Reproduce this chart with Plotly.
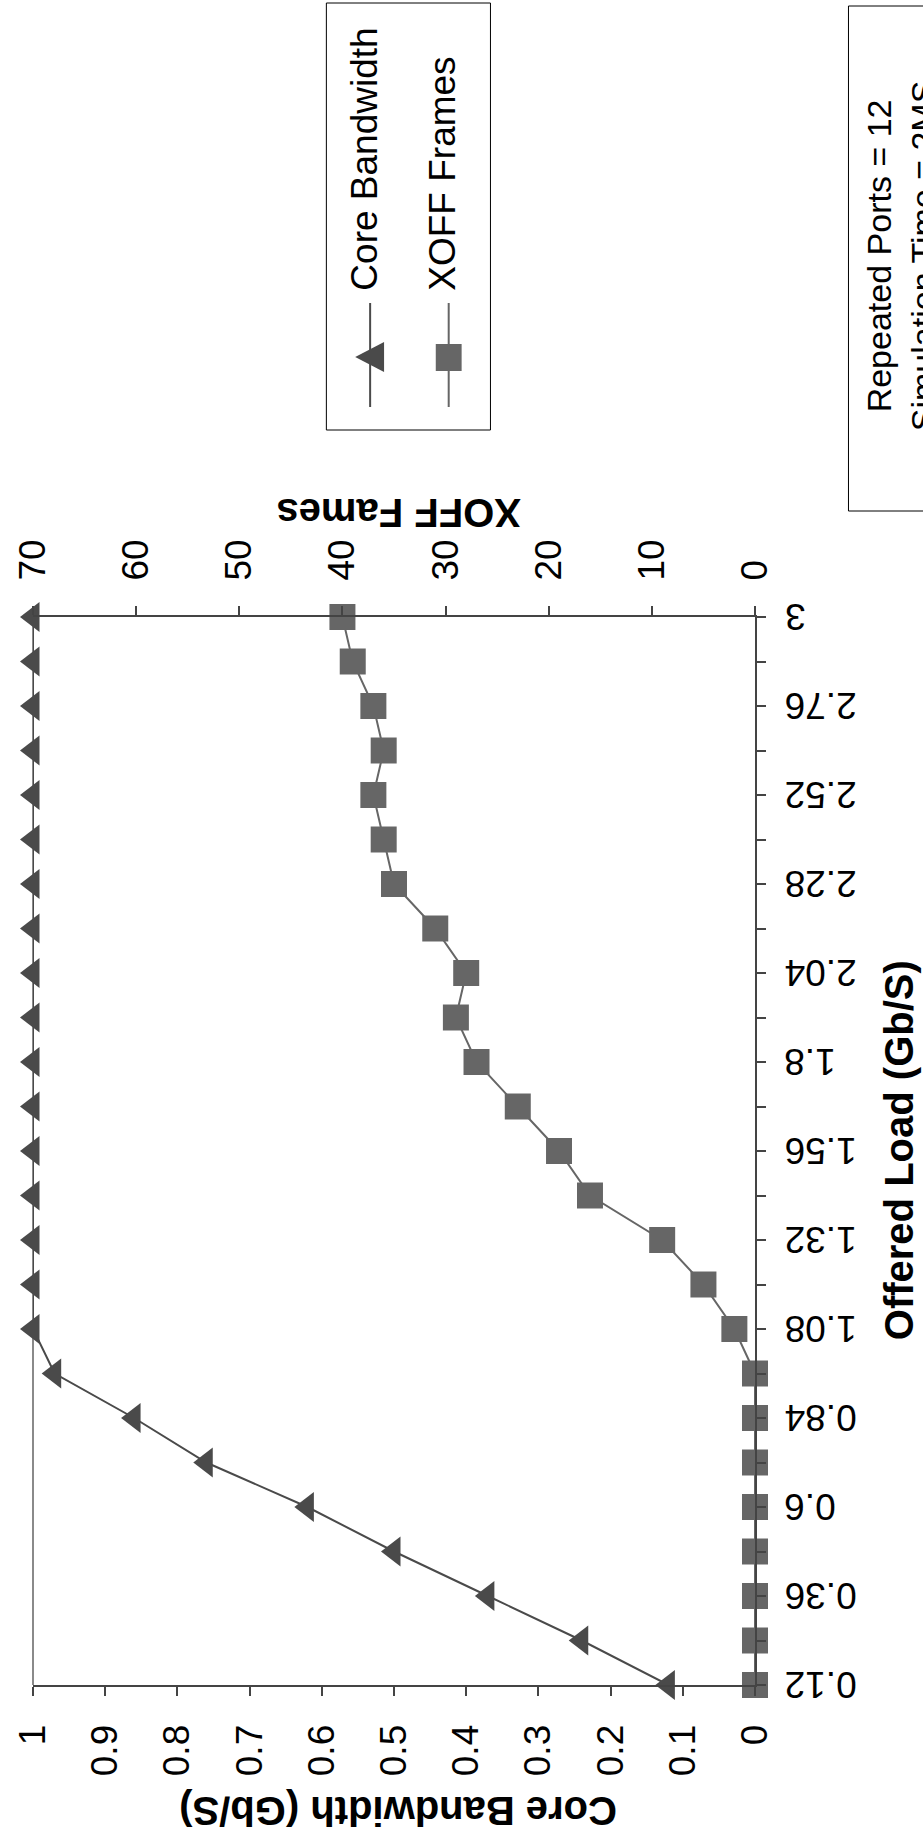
import plotly.graph_objects as go

# ---------------- data ----------------
offered_load = [0.12, 0.24, 0.36, 0.48, 0.60, 0.72, 0.84, 0.96, 1.08, 1.20, 1.32, 1.44, 1.56,
                1.68, 1.80, 1.92, 2.04, 2.16, 2.28, 2.40, 2.52, 2.64, 2.76, 2.88, 3.00]
core_bandwidth = [0.12, 0.24, 0.37, 0.50, 0.62, 0.76, 0.86, 0.97, 1.0, 1.0, 1.0, 1.0, 1.0,
                  1.0, 1.0, 1.0, 1.0, 1.0, 1.0, 1.0, 1.0, 1.0, 1.0, 1.0, 1.0]
xoff_frames = [0, 0, 0, 0, 0, 0, 0, 0, 2, 5, 9, 16, 19,
               23, 27, 29, 28, 31, 35, 36, 37, 36, 37, 39, 40]
load_tick_vals = [0.12, 0.36, 0.60, 0.84, 1.08, 1.32, 1.56, 1.80, 2.04, 2.28, 2.52, 2.76, 3.00]
load_tick_text = ["0.12", "0.36", "0.6", "0.84", "1.08", "1.32", "1.56", "1.8", "2.04",
                  "2.28", "2.52", "2.76", "3"]
bw_ticks = [0, 0.1, 0.2, 0.3, 0.4, 0.5, 0.6, 0.7, 0.8, 0.9, 1]
bw_tick_text = ["0", "0.1", "0.2", "0.3", "0.4", "0.5", "0.6", "0.7", "0.8", "0.9", "1"]
xoff_ticks = [0, 10, 20, 30, 40, 50, 60, 70]
xoff_tick_text = ["0", "10", "20", "30", "40", "50", "60", "70"]

FONT = "Arial, Liberation Sans, sans-serif"
AX = "#444444"
C1 = "#4a4a4a"
C2 = "#666666"

W, H = 923, 1843
L, R, T, B = 29, 168, 617, 158
PW = W - L - R
PH = H - T - B


def px(x):
    return (x - L) / PW


def py(y):
    return (H - B - y) / PH


fig = go.Figure()
fig.add_trace(go.Scatter(
    x=core_bandwidth, y=offered_load, xaxis="x", yaxis="y", mode="lines+markers",
    name="Core Bandwidth", line=dict(color=C1, width=2),
    marker=dict(symbol="triangle-left", size=26, color=C1), showlegend=False, cliponaxis=False))
fig.add_trace(go.Scatter(
    x=xoff_frames, y=offered_load, xaxis="x2", yaxis="y", mode="lines+markers",
    name="XOFF Frames", line=dict(color=C2, width=2),
    marker=dict(symbol="square", size=26, color=C2), showlegend=False, cliponaxis=False))

tickfont = dict(family=FONT, size=37, color="black")
common = dict(showgrid=False, zeroline=False, linecolor=AX, linewidth=2,
              tickcolor=AX, tickwidth=1.5, ticklen=9, tickfont=tickfont)

fig.update_layout(
    width=W, height=H, autosize=False,
    margin=dict(l=L, r=R, t=T, b=B, pad=0),
    paper_bgcolor="white", plot_bgcolor="white",
    font=dict(family=FONT, color="black"),
    xaxis=dict(range=[1, 0], side="bottom", anchor="y", showline=True, ticks="outside",
               tickmode="array", tickvals=bw_ticks, ticktext=bw_tick_text, tickangle=-90,
               ticklabelstandoff=14, **common),
    xaxis2=dict(range=[70, 0], side="top", anchor="y", overlaying="x", showline=True,
                ticks="outside", tickmode="array", tickvals=xoff_ticks, ticktext=xoff_tick_text,
                tickangle=-90, ticklabelstandoff=18, **common),
    xaxis3=dict(range=[1, 0], side="bottom", anchor="y", overlaying="x", showline=False,
                ticks="inside", tickmode="array", tickvals=bw_ticks, showticklabels=False,
                **common),
    xaxis4=dict(range=[70, 0], side="top", anchor="y", overlaying="x", showline=False,
                ticks="inside", tickmode="array", tickvals=xoff_ticks, showticklabels=False,
                **common),
    yaxis=dict(range=[0.12, 3.0], side="right", anchor="x", showline=True, ticks="outside",
               tickmode="array", tickvals=offered_load, showticklabels=False, **common),
    yaxis3=dict(range=[0.12, 3.0], side="right", anchor="x", overlaying="y", showline=False,
                ticks="inside", tickmode="array", tickvals=offered_load, showticklabels=False,
                **common),
)

shapes = []
# left plot-area border
shapes.append(dict(type="line", xref="paper", yref="paper", x0=0, x1=0, y0=0, y1=1,
                   line=dict(color="#8a8a8a", width=2), layer="below"))
# legend box
shapes.append(dict(type="rect", xref="paper", yref="paper", x0=px(324), x1=px(489),
                   y0=py(430), y1=py(3), line=dict(color="black", width=1)))
# legend item 1: line + triangle
shapes.append(dict(type="line", xref="paper", yref="paper", x0=px(368), x1=px(368),
                   y0=py(407), y1=py(303), line=dict(color=C1, width=2)))
shapes.append(dict(type="path", xref="paper", yref="paper",
                   path=f"M {px(353)} {py(357)} L {px(382)} {py(342)} L {px(382)} {py(372)} Z",
                   fillcolor=C1, line=dict(color=C1, width=0)))
# legend item 2: line + square
shapes.append(dict(type="line", xref="paper", yref="paper", x0=px(447), x1=px(447),
                   y0=py(407), y1=py(303), line=dict(color=C2, width=2)))
shapes.append(dict(type="rect", xref="paper", yref="paper", x0=px(434), x1=px(460),
                   y0=py(371), y1=py(344), fillcolor=C2, line=dict(color=C2, width=0)))
# text box
shapes.append(dict(type="rect", xref="paper", yref="paper", x0=px(849), x1=px(990),
                   y0=py(511), y1=py(6), line=dict(color="black", width=1)))
fig.update_layout(shapes=shapes)

ann = []
# offered-load tick labels (upside down, left aligned next to the axis)
for v, t in zip(load_tick_vals, load_tick_text):
    ann.append(dict(text=t, x=px(783), y=v, xref="paper", yref="y", showarrow=False,
                    textangle=180, font=tickfont, xanchor="left", yanchor="middle"))

title_font = dict(family=FONT, size=40, color="black")
ann.append(dict(text="<b>Offered Load (Gb/S)</b>", x=px(900), y=py(1150), xref="paper",
                yref="paper", showarrow=False, textangle=-90, font=title_font,
                xanchor="center", yanchor="middle"))
ann.append(dict(text="<b>Core Bandwidth (Gb/S)</b>", x=px(396), y=py(1811), xref="paper",
                yref="paper", showarrow=False, textangle=180, font=title_font,
                xanchor="center", yanchor="middle"))
ann.append(dict(text="<b>XOFF Fames</b>", x=px(396), y=py(513), xref="paper",
                yref="paper", showarrow=False, textangle=180, font=title_font,
                xanchor="center", yanchor="middle"))
leg_font = dict(family=FONT, size=37, color="black")
ann.append(dict(text="Core Bandwidth", x=px(362), y=py(293), xref="paper", yref="paper",
                showarrow=False, textangle=-90, font=leg_font, xanchor="center",
                yanchor="bottom"))
ann.append(dict(text="XOFF Frames", x=px(441), y=py(293), xref="paper", yref="paper",
                showarrow=False, textangle=-90, font=leg_font, xanchor="center",
                yanchor="bottom"))
box_font = dict(family=FONT, size=34, color="black")
ann.append(dict(text="Repeated Ports = 12<br>Simulation Time = 2MS", x=px(902), y=py(256),
                xref="paper", yref="paper", showarrow=False, textangle=-90, font=box_font,
                xanchor="center", yanchor="middle", align="center"))
fig.update_layout(annotations=ann)

fig.write_html("out.html")
